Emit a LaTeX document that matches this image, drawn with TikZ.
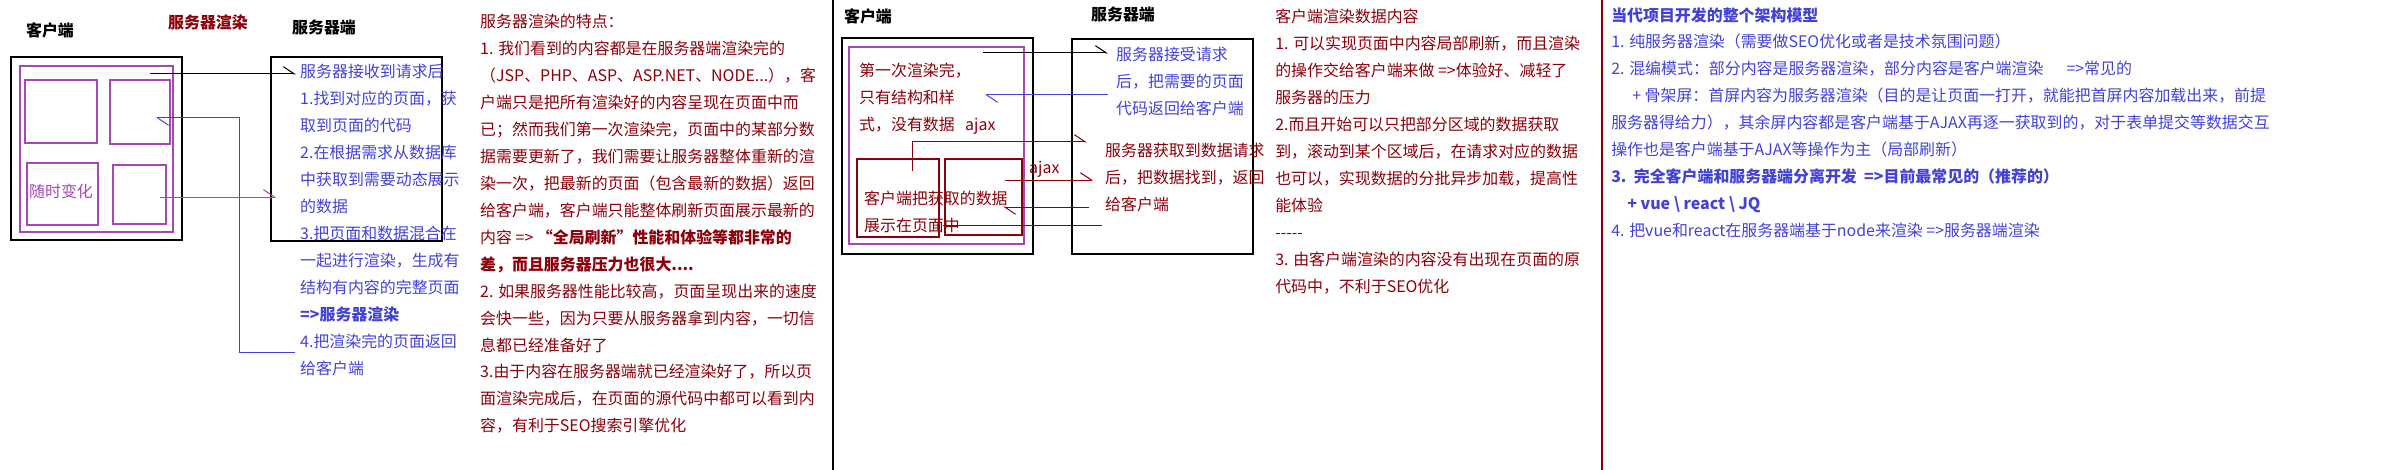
\documentclass[tikz,border=0pt]{standalone}
\usepackage{fontspec}
\setmainfont{Noto Sans CJK SC}
\usepackage{xcolor}
\definecolor{ssrred}{RGB}{140,0,10}
\definecolor{noteblue}{RGB}{66,66,214}
\definecolor{pagepurple}{RGB}{165,72,180}
\usetikzlibrary{arrows.meta, positioning, fit}

\begin{document}
\begin{tikzpicture}[x=0.3mm, y=-0.3mm,
  every node/.style={inner sep=0pt, font=\fontsize{13.6pt}{23pt}\selectfont},
  heading/.style={font=\fontsize{13.6pt}{16pt}\selectfont\bfseries},
  para/.style={anchor=north west, align=left},
  outerbox/.style={draw=black, line width=0.32mm},
  pagebox/.style={draw=pagepurple, line width=0.32mm},
  partbox/.style={draw=ssrred, line width=0.32mm},
  connector/.style={line width=0.3mm, -{Straight Barb[harpoon, length=3.3mm, width=4.4mm]}},
]
\useasboundingbox (0,0) rectangle (2402,470);

% === Part 1: server side rendering ===
\node[heading] (clienttitle) at (50,30) {客户端};
\node[heading, text=ssrred] (ssrtitle) at (208,22) {服务器渲染};
\node[heading] (servertitle) at (324,27) {服务器端};

% client window with its page blocks
\node[outerbox, fit={(11,57) (182,240)}] (client) {};
\node[pagebox, fit={(20,66) (173,232)}] (page) {};
\node[pagebox, fit={(25,80) (97,143)}] (cellone) {};
\node[pagebox, fit={(110,80) (170,144)}] (celltwo) {};
\node[pagebox, fit={(27,163) (98,225)}] (cellthree) {};
\node[pagebox, fit={(113,165) (166,224)}] (cellfour) {};
\node[text=pagepurple] (changing) at (61,191) {随时变化};

% server box and its steps
\node[outerbox, fit={(271,57) (442,241)}] (server) {};
\node[para, text=noteblue] (steps) at (300,64) {服务器接收到请求后\\
1.找到对应的页面，获\\
取到页面的代码\\
2.在根据需求从数据库\\
中获取到需要动态展示\\
的数据\\
3.把页面和数据混合在\\
一起进行渲染，生成有\\
结构有内容的完整页面\\
\textbf{=>服务器渲染}\\
4.把渲染完的页面返回\\
给客户端};

% connectors
\coordinate (reqfrom) at (150,74);
\coordinate (reqto) at (296,74);
\coordinate (backfrom) at (295,352);
\coordinate (backbend) at (239,118);
\coordinate (backto) at (156,118);
\coordinate (datafrom) at (160,197);
\coordinate (datato) at (276,197);
\draw[connector] (reqfrom) -- (reqto);
\draw[connector, noteblue] (backfrom) -| (backbend) -- (backto);
\draw[connector, pagepurple] (datafrom) -- (datato);

% notes on server side rendering
\node[para, text=ssrred] (ssrnotes) at (480,14) {服务器渲染的特点：\\
1. 我们看到的内容都是在服务器端渲染完的\\
（JSP、PHP、ASP、ASP.NET、NODE...），客\\
户端只是把所有渲染好的内容呈现在页面中而\\
已；然而我们第一次渲染完，页面中的某部分数\\
据需要更新了，我们需要让服务器整体重新的渲\\
染一次，把最新的页面（包含最新的数据）返回\\
给客户端，客户端只能整体刷新页面展示最新的\\
内容 => \textbf{“全局刷新”性能和体验等都非常的}\\
\textbf{差，而且服务器压力也很大....}\\
2. 如果服务器性能比较高，页面呈现出来的速度\\
会快一些，因为只要从服务器拿到内容，一切信\\
息都已经准备好了\\
3.由于内容在服务器端就已经渲染好了，所以页\\
面渲染完成后，在页面的源代码中都可以看到内\\
容，有利于SEO搜索引擎优化};

\draw[line width=0.32mm] (833,0) -- (833,470);

% === Part 2: client side rendering ===
\node[heading] (clienttitletwo) at (868,16) {客户端};
\node[heading] (servertitletwo) at (1123,14) {服务器端};

\node[outerbox, fit={(842,38) (1033,254)}] (clienttwo) {};
\node[pagebox, fit={(849,47) (1024,244)}] (pagetwo) {};
\node[partbox, fit={(857,159) (939,237)}] (partone) {};
\node[partbox, fit={(945,159) (1022,235)}] (parttwo) {};
\node[para, text=ssrred] (firstrender) at (859,63) {第一次渲染完，\\只有结构和样\\式，没有数据};
\node[anchor=west, text=ssrred] (ajaxone) at (965,126) {ajax};
\node[anchor=west, text=ssrred] (ajaxtwo) at (1029,169) {ajax};
\node[para, text=ssrred] (showdata) at (864,191) {客户端把获取的数据\\展示在页面中};

\node[outerbox, fit={(1072,39) (1253,254)}] (servertwo) {};
\node[para, text=noteblue] (sendpage) at (1116,47) {服务器接受请求\\后，把需要的页面\\代码返回给客户端};
\node[para, text=ssrred] (senddata) at (1105,143) {服务器获取到数据请求\\后，把数据找到，返回\\给客户端};

% connectors
\coordinate (askfrom) at (983,53);
\coordinate (askto) at (1108,53);
\coordinate (pagefrom) at (1108,95);
\coordinate (pageto) at (985,95);
\coordinate (ajaxfrom) at (912,171);
\coordinate (ajaxto) at (1087,142);
\coordinate (ajaxtwofrom) at (1005,180);
\coordinate (ajaxtwoto) at (1093,180);
\coordinate (replyfrom) at (1089,207);
\coordinate (replyto) at (1003,207);
\coordinate (showfrom) at (1102,225);
\coordinate (showto) at (943,225);
\draw[connector] (askfrom) -- (askto);
\draw[connector, noteblue] (pagefrom) -- (pageto);
\draw[connector, ssrred] (ajaxfrom) |- (ajaxto);
\draw[connector, ssrred] (ajaxtwofrom) -- (ajaxtwoto);
\draw[connector, ssrred] (replyfrom) -- (replyto);
\draw[line width=0.3mm, ssrred] (showfrom) -- (showto);

% notes on client side rendering
\node[para, text=ssrred] (csrnotes) at (1275,9) {客户端渲染数据内容\\
1. 可以实现页面中内容局部刷新，而且渲染\\
的操作交给客户端来做 =>体验好、减轻了\\
服务器的压力\\
2.而且开始可以只把部分区域的数据获取\\
到，滚动到某个区域后，在请求对应的数据\\
也可以，实现数据的分批异步加载，提高性\\
能体验\\
-{}-{}-{}-{}-\\
3. 由客户端渲染的内容没有出现在页面的原\\
代码中，不利于SEO优化};

\draw[ssrred, line width=0.32mm] (1602,0) -- (1602,470);

% === Part 3: architecture models ===
\node[para, text=noteblue] (models) at (1611,7) {\textbf{当代项目开发的整个架构模型}\\
1. 纯服务器渲染（需要做SEO优化或者是技术氛围问题）\\
2. 混编模式：部分内容是服务器渲染，部分内容是客户端渲染\hspace{6.9mm}=>常见的\\
\hspace*{6.3mm}+ 骨架屏：首屏内容为服务器渲染（目的是让页面一打开，就能把首屏内容加载出来，前提\\
服务器得给力），其余屏内容都是客户端基于AJAX再逐一获取到的，对于表单提交等数据交互\\
操作也是客户端基于AJAX等操作为主（局部刷新）\\
\textbf{3.\ \ 完全客户端和服务器端分离开发\ \ =>目前最常见的（推荐的）}\\
\hspace*{4.8mm}\textbf{+ vue \textbackslash{} react \textbackslash{} JQ}\\
4. 把vue和react在服务器端基于node来渲染 =>服务器端渲染};

\end{tikzpicture}
\end{document}
